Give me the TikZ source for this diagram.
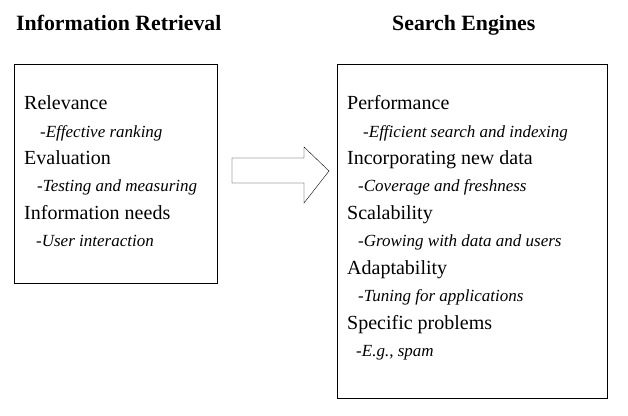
\documentclass[tikz,border=0pt]{standalone}
\usepackage{fontspec}
\setmainfont{Liberation Serif}
\begin{document}
\begin{tikzpicture}[x=1pt,y=-1pt,font={\fontsize{20}{22}\selectfont}]
\useasboundingbox (0,0) rectangle (628,415);
\tikzset{item/.style={anchor=base west,inner sep=0pt},
  sub/.style={item,font={\fontsize{17}{19}\selectfont\itshape}},
  title/.style={anchor=base west,inner sep=0pt,font={\fontsize{21.8}{24}\selectfont\bfseries}}}

\node[title] (irtitle) at (16,30) {Information Retrieval};
\node[title] (setitle) at (392,30) {Search Engines};

\path[draw] (14,64) rectangle (217,283);
\path[draw] (337,64) rectangle (607,398);

% left box
\node[item] (rel) at (24,109) {Relevance};
\node[sub] (rank) at (40,137) {-Effective ranking};
\node[item] (eval) at (24,164) {Evaluation};
\node[sub] (test) at (37,191) {-Testing and measuring};
\node[item] (need) at (24,219) {Information needs};
\node[sub] (user) at (36,246) {-User interaction};

% arrow between the boxes
\path[draw] (232,158) -- (304,158) -- (304,147) -- (329,171)
  -- (304,203) -- (304,183) -- (232,183) -- cycle;

% right box
\node[item] (perf) at (347,109) {Performance};
\node[sub] (index) at (363,137) {-Efficient search and indexing};
\node[item] (new) at (347,164) {Incorporating new data};
\node[sub] (fresh) at (358,191) {-Coverage and freshness};
\node[item] (scale) at (347,219) {Scalability};
\node[sub] (grow) at (358,246) {-Growing with data and users};
\node[item] (adapt) at (347,274) {Adaptability};
\node[sub] (tune) at (358,301) {-Tuning for applications};
\node[item] (spec) at (347,329) {Specific problems};
\node[sub] (spam) at (356,356) {-E.g., spam};
\end{tikzpicture}
\end{document}
